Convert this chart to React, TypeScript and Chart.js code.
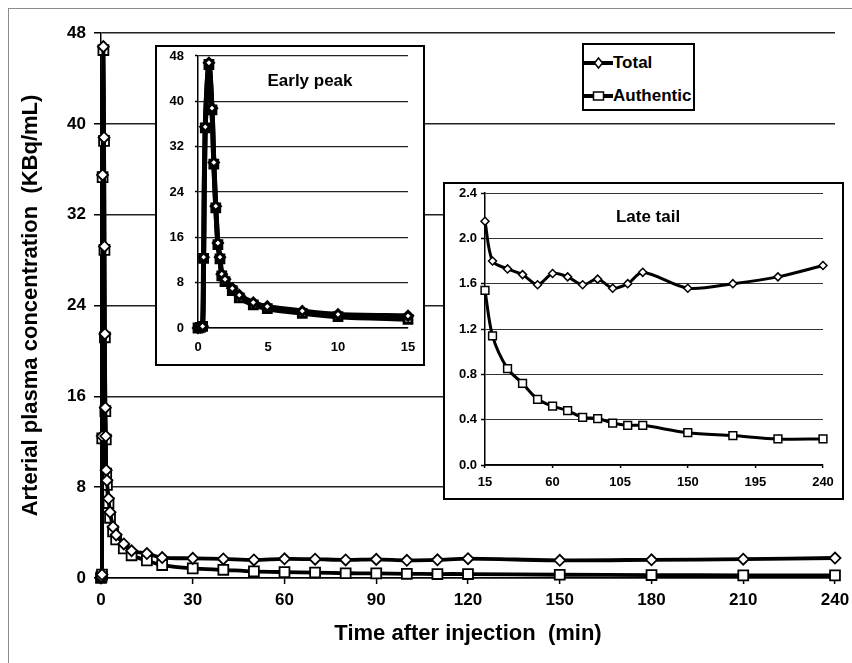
import React, { useEffect, useRef } from 'react';
import { Chart, registerables } from 'chart.js';

Chart.register(...registerables);

// ---------- data ----------
const seriesNames = ['Total', 'Authentic'];

const earlyTimes = [0, 0.17, 0.33, 0.4, 0.52, 0.78, 1.0, 1.13, 1.27, 1.42, 1.57, 1.7, 1.93, 2.45, 2.95, 3.95, 4.95, 7.45, 10, 15];
const earlyTotal = [0, 0.1, 0.3, 12.5, 35.5, 46.8, 38.8, 29.2, 21.5, 15.0, 12.5, 9.5, 8.6, 7.0, 5.8, 4.5, 3.8, 3.0, 2.4, 2.15];
const earlyAuthentic = [0, 0.1, 0.3, 12.3, 35.3, 46.5, 38.5, 28.9, 21.2, 14.7, 12.2, 9.2, 8.2, 6.6, 5.3, 4.1, 3.4, 2.6, 2.0, 1.54];

const lateTimes = [15, 20, 30, 40, 50, 60, 70, 80, 90, 100, 110, 120, 150, 180, 210, 240];
const lateTotal = [2.15, 1.8, 1.73, 1.68, 1.59, 1.69, 1.66, 1.59, 1.64, 1.56, 1.6, 1.7, 1.56, 1.6, 1.66, 1.76];
const lateAuthentic = [1.54, 1.14, 0.85, 0.72, 0.58, 0.52, 0.48, 0.42, 0.41, 0.37, 0.35, 0.35, 0.285, 0.26, 0.23, 0.23];

const mainXTicks = [0, 30, 60, 90, 120, 150, 180, 210, 240];
const mainYTicks = [0, 8, 16, 24, 32, 40, 48];
const earlyXTicks = [0, 5, 10, 15];
const earlyYTicks = [0, 8, 16, 24, 32, 40, 48];
const lateXTicks = [15, 60, 105, 150, 195, 240];
const lateYTicks = [0, 0.4, 0.8, 1.2, 1.6, 2.0, 2.4];

const xTitle = 'Time after injection  (min)';
const yTitle = 'Arterial plasma concentration  (KBq/mL)';
const earlyTitle = 'Early peak';
const lateTitle = 'Late tail';

// ---------- helpers ----------
const FONT = '"Liberation Sans", Arial, sans-serif';
Chart.defaults.font.family = FONT;
Chart.defaults.color = '#000';

function zip(xs: number[], ys: number[]) {
  return xs.map((x, i) => ({ x, y: ys[i] }));
}

const allTimes = earlyTimes.concat(lateTimes.slice(1));
const allTotal = earlyTotal.concat(lateTotal.slice(1));
const allAuthentic = earlyAuthentic.concat(lateAuthentic.slice(1));

type ScaleSpec = {
  ticks: number[];
  size: number;
  fontSize: number;
  tickLength: number;
  padding: number;
  grid: boolean;
  gridColor?: string;
  gridWidth?: number;
  decimals?: number;
  title?: string;
  titleSize?: number;
  titlePad?: any;
  borderWidth?: number;
};

function scaleFor(axis: 'x' | 'y', s: ScaleSpec) {
  const mn = s.ticks[0];
  const mx = s.ticks[s.ticks.length - 1];
  return {
    type: 'linear',
    position: axis === 'x' ? 'bottom' : 'left',
    min: mn,
    max: mx,
    afterBuildTicks: (sc: any) => {
      sc.ticks = s.ticks.map((v) => ({ value: v }));
    },
    afterFit: (sc: any) => {
      if (axis === 'x') sc.height = s.size;
      else sc.width = s.size;
      sc.paddingLeft = 0;
      sc.paddingRight = 0;
      sc.paddingTop = 0;
      sc.paddingBottom = 0;
    },
    border: { display: true, color: '#000', width: s.borderWidth ?? 1.5 },
    grid: {
      display: true,
      drawOnChartArea: s.grid,
      drawTicks: s.tickLength > 0,
      tickLength: s.tickLength,
      tickColor: '#000',
      tickWidth: 1.5,
      color: s.gridColor ?? '#222',
      lineWidth: s.gridWidth ?? 1.2,
    },
    ticks: {
      autoSkip: false,
      maxRotation: 0,
      padding: s.padding,
      font: { size: s.fontSize, weight: 'bold', family: FONT },
      color: '#000',
      callback: (v: number) => (s.decimals ? Number(v).toFixed(s.decimals) : String(v)),
    },
    title: s.title
      ? {
          display: true,
          text: s.title,
          font: { size: s.titleSize, weight: 'bold', family: FONT },
          color: '#000',
          padding: s.titlePad,
        }
      : { display: false },
  };
}

function ds(label: string, data: any[], style: string, radius: number, lineWidth: number, ptBorder: number) {
  return {
    label,
    data,
    borderColor: '#000',
    backgroundColor: '#fff',
    borderWidth: lineWidth,
    pointStyle: style,
    pointRadius: radius,
    pointBackgroundColor: '#fff',
    pointBorderColor: '#000',
    pointBorderWidth: ptBorder,
    tension: 0.3,
    fill: false,
    clip: false,
  };
}

function useChart(ref: React.RefObject<HTMLCanvasElement>, build: () => any) {
  useEffect(() => {
    if (!ref.current) return;
    const chart = new Chart(ref.current, build());
    return () => chart.destroy();
  }, []);
}

export default function App() {
  const mainRef = useRef<HTMLCanvasElement>(null);
  const earlyRef = useRef<HTMLCanvasElement>(null);
  const lateRef = useRef<HTMLCanvasElement>(null);

  useChart(mainRef, () => ({
    type: 'line',
    data: {
      datasets: [
        ds(seriesNames[0], zip(allTimes, allTotal), 'rectRot', 5.5, 3.8, 1.8),
        ds(seriesNames[1], zip(allTimes, allAuthentic), 'rect', 7, 3.8, 1.8),
      ],
    },
    options: {
      animation: false,
      responsive: false,
      events: [],
      layout: { padding: { top: 24, right: 17, left: 0, bottom: 0 } },
      plugins: { legend: { display: false }, tooltip: { enabled: false } },
      scales: {
        x: scaleFor('x', {
          ticks: mainXTicks, size: 85, fontSize: 17, tickLength: 6, padding: 6, grid: false,
          title: xTitle, titleSize: 22, titlePad: { top: 0, bottom: 16 },
        }),
        y: scaleFor('y', {
          ticks: mainYTicks, size: 92, fontSize: 17, tickLength: 7, padding: 8, grid: true,
          gridColor: '#222', gridWidth: 1.5,
          title: yTitle, titleSize: 22, titlePad: { top: 9, bottom: 0 },
        }),
      },
    },
  }));

  useChart(earlyRef, () => ({
    type: 'line',
    data: {
      datasets: [
        ds(seriesNames[0], zip(earlyTimes, earlyTotal), 'rectRot', 4.5, 5, 3),
        ds(seriesNames[1], zip(earlyTimes, earlyAuthentic), 'rect', 5.5, 5, 3),
      ],
    },
    options: {
      animation: false,
      responsive: false,
      events: [],
      layout: { padding: { top: 9, right: 15, left: 0, bottom: 0 } },
      plugins: { legend: { display: false }, tooltip: { enabled: false } },
      scales: {
        x: scaleFor('x', { ticks: earlyXTicks, size: 36, fontSize: 13, tickLength: 0, padding: 12, grid: false }),
        y: scaleFor('y', { ticks: earlyYTicks, size: 41, fontSize: 13, tickLength: 3, padding: 11, grid: true, gridColor: '#222', gridWidth: 1.2 }),
      },
    },
  }));

  useChart(lateRef, () => ({
    type: 'line',
    data: {
      datasets: [
        ds(seriesNames[0], zip(lateTimes, lateTotal), 'rectRot', 4, 3, 1.5),
        ds(seriesNames[1], zip(lateTimes, lateAuthentic), 'rect', 5.5, 3, 1.5),
      ],
    },
    options: {
      animation: false,
      responsive: false,
      events: [],
      layout: { padding: { top: 9, right: 19, left: 0, bottom: 0 } },
      plugins: { legend: { display: false }, tooltip: { enabled: false } },
      scales: {
        x: scaleFor('x', { ticks: lateXTicks, size: 33, fontSize: 13, tickLength: 3, padding: 7, grid: false }),
        y: scaleFor('y', { ticks: lateYTicks, size: 40, fontSize: 13, tickLength: 4, padding: 4, grid: true, decimals: 1, gridColor: '#333', gridWidth: 1 }),
      },
    },
  }));

  const boxStyle = (left: number, top: number, w: number, h: number): React.CSSProperties => ({
    position: 'absolute', left, top, width: w, height: h, boxSizing: 'border-box',
    border: '2px solid #000', background: '#fff',
  });
  const titleStyle = (x: number, y: number): React.CSSProperties => ({
    position: 'absolute', left: x, top: y, transform: 'translate(-50%, -50%)',
    font: `bold 17px ${FONT}`, color: '#000', whiteSpace: 'nowrap',
  });
  const legendRow = (top: number, name: string, marker: 'diamond' | 'square') => (
    <div style={{ position: 'absolute', left: 0, top, height: 20, display: 'flex', alignItems: 'center' }}>
      <svg width={29} height={16} style={{ display: 'block' }}>
        <line x1={0} y1={8} x2={29} y2={8} stroke="#000" strokeWidth={4} />
        {marker === 'diamond' ? (
          <polygon points="14.5,3 18.5,8 14.5,13 10.5,8" fill="#fff" stroke="#000" strokeWidth={1.5} />
        ) : (
          <rect x={9.5} y={4} width={10} height={8} fill="#fff" stroke="#000" strokeWidth={1.5} />
        )}
      </svg>
      <span style={{ font: `bold 17px ${FONT}`, color: '#000', whiteSpace: 'nowrap' }}>{name}</span>
    </div>
  );

  return (
    <div
      style={{
        position: 'fixed', left: 8, top: 8, width: 844, height: 655, boxSizing: 'border-box',
        borderTop: '1px solid #8c8c8c', borderLeft: '1px solid #8c8c8c', background: '#fff', overflow: 'hidden',
      }}
    >
      <canvas ref={mainRef} width={843} height={654} style={{ position: 'absolute', left: 0, top: 0, display: 'block' }} />
      <div style={boxStyle(146, 36, 270, 321)}>
        <canvas ref={earlyRef} width={266} height={317} style={{ display: 'block' }} />
        <div style={titleStyle(153, 34)}>{earlyTitle}</div>
      </div>
      <div style={boxStyle(434, 173, 401, 318)}>
        <canvas ref={lateRef} width={397} height={314} style={{ display: 'block' }} />
        <div style={titleStyle(203, 33)}>{lateTitle}</div>
      </div>
      <div style={boxStyle(573, 34, 113, 68)}>
        {legendRow(8, seriesNames[0], 'diamond')}
        {legendRow(41, seriesNames[1], 'square')}
      </div>
    </div>
  );
}
